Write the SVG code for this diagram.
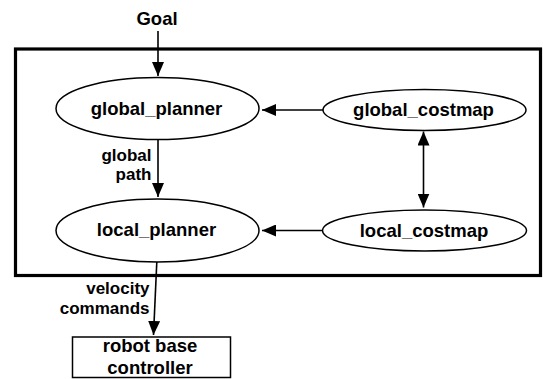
<svg xmlns="http://www.w3.org/2000/svg" width="543" height="379" viewBox="0 0 543 379">
  <style>
    text { font-family: "Liberation Sans", Arial, Helvetica, sans-serif; font-weight: bold; fill: #000; }
    .node { font-size: 18.5px; text-anchor: middle; }
    .lbl { font-size: 17px; text-anchor: end; }
    .shape { fill: #fff; stroke: #000; stroke-width: 1.5; }
    .edge { fill: none; stroke: #000; stroke-width: 1.6; }
    .frame { fill: none; stroke: #000; stroke-width: 3.2; }
  </style>
  <defs>
    <marker id="head" viewBox="0 0 14 12" refX="14" refY="6" markerWidth="14" markerHeight="12" markerUnits="userSpaceOnUse" orient="auto-start-reverse">
      <path d="M0,0 L14,6 L0,12 Z" fill="#000"/>
    </marker>
  </defs>

  <rect width="543" height="379" fill="#fff"/>

  <!-- navigation stack boundary -->
  <rect class="frame" x="15.5" y="49" width="525" height="226.5"/>

  <!-- connectors -->
  <g id="connectors">
    <line class="edge" x1="158" y1="31" x2="158" y2="76" marker-end="url(#head)"/>
    <line class="edge" x1="323" y1="110" x2="262" y2="110" marker-end="url(#head)"/>
    <line class="edge" x1="423.5" y1="131.5" x2="423.5" y2="207.5" marker-start="url(#head)" marker-end="url(#head)"/>
    <line class="edge" x1="158" y1="140" x2="158" y2="197" marker-end="url(#head)"/>
    <line class="edge" x1="322" y1="230.5" x2="262" y2="230.5" marker-end="url(#head)"/>
    <line class="edge" x1="156.8" y1="262" x2="153.5" y2="335" marker-end="url(#head)"/>
    <text class="lbl" x="151.5" y="161">global</text>
    <text class="lbl" x="151.5" y="180">path</text>
    <text class="lbl" x="149.5" y="294">velocity</text>
    <text class="lbl" x="149.5" y="313.5">commands</text>
  </g>

  <g id="goal">
    <text class="node" x="157" y="25">Goal</text>
  </g>

  <g id="global_planner">
    <ellipse class="shape" cx="157.5" cy="108.5" rx="101.5" ry="31"/>
    <text class="node" x="156.5" y="115">global_planner</text>
  </g>

  <g id="global_costmap">
    <ellipse class="shape" cx="424.5" cy="110" rx="101.5" ry="20.5"/>
    <text class="node" x="423.5" y="116">global_costmap</text>
  </g>

  <g id="local_planner">
    <ellipse class="shape" cx="157.5" cy="230.5" rx="101.5" ry="31.5"/>
    <text class="node" x="156.5" y="235.5">local_planner</text>
  </g>

  <g id="local_costmap">
    <ellipse class="shape" cx="424.5" cy="230.5" rx="102" ry="20.5"/>
    <text class="node" x="424" y="236.5">local_costmap</text>
  </g>

  <g id="robot_base_controller">
    <rect class="shape" x="72.5" y="337" width="158" height="40.5"/>
    <text class="node" x="150" y="352">robot base</text>
    <text class="node" x="150" y="374">controller</text>
  </g>
</svg>
